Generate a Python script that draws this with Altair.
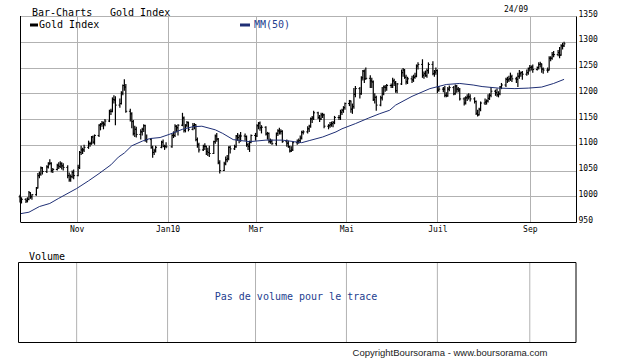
import altair as alt
import pandas as pd

# ---- OHLC data (day, open, high, low, close) ----
sep09 = [(24,999,1003,988,992),(25,992,998,986,994),(28,994,996,987,991),(29,991,998,988,994),(30,994,1010,992,1007)]
oct09 = [(1,1007,1008,995,999),(2,999,1004,993,1003),(5,1003,1018,1001,1016),(6,1016,1045,1015,1040),(7,1040,1048,1035,1043),
         (8,1043,1058,1040,1055),(9,1055,1057,1042,1048),(12,1048,1060,1045,1057),(13,1057,1066,1054,1064),(14,1064,1072,1060,1064),
         (15,1064,1066,1046,1050),(16,1050,1055,1045,1052),(19,1052,1063,1050,1060),(20,1060,1066,1053,1058),(21,1058,1068,1055,1063),
         (22,1063,1066,1052,1059),(23,1059,1064,1050,1056),(26,1056,1060,1035,1040),(27,1040,1046,1028,1032),(28,1032,1042,1028,1038),
         (29,1038,1050,1035,1046),(30,1046,1052,1033,1040)]
nov09 = [(2,1040,1061,1039,1056),(3,1056,1088,1053,1085),(4,1085,1098,1080,1090),(5,1090,1094,1082,1090),(6,1090,1100,1086,1095),
         (9,1095,1108,1092,1102),(10,1102,1106,1096,1102),(11,1102,1117,1100,1115),(12,1115,1118,1102,1105),(13,1105,1120,1100,1118),
         (16,1118,1140,1115,1138),(17,1138,1142,1128,1140),(18,1140,1146,1135,1142),(19,1142,1145,1130,1140),(20,1140,1150,1136,1146),
         (23,1146,1168,1144,1165),(24,1165,1170,1158,1165),(25,1165,1192,1163,1188),(26,1188,1196,1180,1187),(27,1187,1194,1138,1177),
         (30,1177,1190,1172,1180)]
dec09 = [(1,1180,1204,1178,1200),(2,1200,1217,1196,1215),(3,1215,1227,1205,1212),(4,1212,1218,1162,1165),(7,1165,1170,1145,1160),
         (8,1160,1163,1132,1145),(9,1145,1148,1118,1122),(10,1122,1137,1115,1130),(11,1130,1135,1114,1120),(14,1120,1130,1110,1125),
         (15,1125,1133,1118,1130),(16,1130,1140,1125,1137),(17,1137,1139,1106,1110),(18,1110,1120,1104,1110),(21,1110,1113,1092,1095),
         (22,1095,1098,1075,1085),(23,1085,1092,1080,1088),(24,1088,1098,1085,1095),(28,1095,1108,1093,1105),(29,1105,1110,1095,1097),
         (30,1097,1100,1090,1097),(31,1097,1105,1093,1096)]
jan10 = [(4,1096,1122,1094,1118),(5,1118,1126,1113,1118),(6,1118,1140,1115,1136),(7,1136,1138,1124,1133),(8,1133,1140,1118,1138),
         (11,1138,1162,1136,1152),(12,1152,1155,1124,1128),(13,1128,1140,1124,1138),(14,1138,1146,1134,1143),(15,1143,1145,1126,1130),
         (18,1130,1142,1128,1137),(19,1137,1142,1130,1139),(20,1139,1140,1107,1110),(21,1110,1114,1094,1100),(22,1100,1104,1085,1090),
         (25,1090,1100,1088,1097),(26,1097,1103,1090,1097),(27,1097,1098,1080,1087),(28,1087,1094,1078,1085),(29,1085,1098,1076,1083)]
feb10 = [(1,1083,1108,1082,1106),(2,1106,1120,1102,1117),(3,1117,1123,1106,1111),(4,1111,1113,1062,1065),(5,1065,1070,1044,1050),
         (8,1050,1067,1049,1063),(9,1063,1077,1060,1071),(10,1071,1080,1066,1073),(11,1073,1097,1070,1095),(12,1095,1098,1083,1092),
         (15,1092,1100,1090,1096),(16,1096,1119,1094,1117),(17,1117,1123,1108,1114),(18,1114,1120,1103,1117),(19,1117,1125,1106,1117),
         (22,1117,1122,1108,1116),(23,1116,1118,1096,1100),(24,1100,1104,1090,1097),(25,1097,1108,1086,1105),(26,1105,1120,1103,1118)]
mar10 = [(1,1118,1123,1108,1117),(2,1117,1140,1115,1137),(3,1137,1144,1130,1142),(4,1142,1145,1127,1133),(5,1133,1138,1122,1134),
         (8,1134,1136,1118,1121),(9,1121,1125,1110,1122),(10,1122,1124,1103,1107),(11,1107,1112,1102,1107),(12,1107,1110,1100,1102),
         (15,1102,1124,1098,1122),(16,1122,1130,1117,1127),(17,1127,1133,1120,1125),(18,1125,1130,1120,1126),(19,1126,1128,1104,1106),
         (22,1106,1110,1096,1103),(23,1103,1108,1094,1096),(24,1096,1098,1085,1088),(25,1088,1097,1086,1090),(26,1090,1107,1088,1104),
         (29,1104,1110,1100,1106),(30,1106,1112,1102,1108),(31,1108,1118,1104,1113)]
apr10 = [(1,1113,1127,1110,1124),(2,1124,1128,1120,1125),(5,1125,1136,1122,1131),(6,1131,1139,1125,1136),(7,1136,1153,1133,1150),
         (8,1150,1156,1142,1152),(9,1152,1166,1148,1162),(12,1162,1164,1150,1153),(13,1153,1158,1144,1150),(14,1150,1162,1148,1158),
         (15,1158,1162,1152,1158),(16,1158,1160,1132,1136),(19,1136,1140,1130,1137),(20,1137,1144,1133,1139),(21,1139,1145,1135,1141),
         (22,1141,1146,1134,1143),(23,1143,1156,1140,1153),(26,1153,1158,1148,1153),(27,1153,1168,1148,1163),(28,1163,1170,1158,1167),
         (29,1167,1175,1162,1172),(30,1172,1182,1168,1180)]
may10 = [(3,1180,1187,1175,1185),(4,1185,1186,1162,1169),(5,1169,1180,1160,1174),(6,1174,1210,1170,1198),(7,1198,1214,1192,1209),
         (10,1209,1212,1190,1199),(11,1199,1233,1197,1230),(12,1230,1245,1225,1243),(13,1243,1246,1220,1228),(14,1228,1250,1226,1229),
         (17,1229,1235,1210,1224),(18,1224,1230,1210,1222),(19,1222,1225,1185,1188),(20,1188,1200,1180,1192),(21,1192,1195,1166,1177),
         (24,1177,1195,1175,1191),(25,1191,1212,1186,1199),(26,1199,1215,1196,1212),(27,1212,1216,1203,1211),(28,1211,1218,1205,1215),
         (31,1215,1219,1210,1215)]
jun10 = [(1,1215,1230,1210,1224),(2,1224,1228,1214,1220),(3,1220,1224,1201,1205),(4,1205,1220,1200,1218),(7,1218,1246,1216,1240),
         (8,1240,1249,1232,1245),(9,1245,1247,1228,1231),(10,1231,1236,1217,1222),(11,1222,1232,1218,1228),(14,1228,1234,1220,1226),
         (15,1226,1236,1222,1231),(16,1231,1240,1228,1233),(17,1233,1256,1231,1253),(18,1253,1260,1246,1256),(21,1256,1266,1230,1235),
         (22,1235,1242,1228,1238),(23,1238,1244,1232,1234),(24,1234,1248,1230,1244),(25,1244,1260,1238,1256),(28,1256,1262,1235,1238),
         (29,1238,1245,1232,1241),(30,1241,1250,1236,1244)]
jul10 = [(1,1244,1246,1200,1206),(2,1206,1214,1203,1208),(5,1208,1212,1202,1208),(6,1208,1214,1192,1196),(7,1196,1202,1192,1195),
         (8,1195,1212,1193,1208),(9,1208,1215,1204,1211),(12,1211,1214,1196,1199),(13,1199,1217,1197,1214),(14,1214,1216,1201,1208),
         (15,1208,1212,1202,1206),(16,1206,1210,1186,1189),(19,1189,1192,1176,1181),(20,1181,1194,1178,1191),(21,1191,1198,1185,1193),
         (22,1193,1200,1188,1193),(23,1193,1198,1184,1189),(26,1189,1192,1180,1184),(27,1184,1186,1158,1161),(28,1161,1168,1155,1158),
         (29,1158,1172,1157,1169),(30,1169,1184,1165,1181)]
aug10 = [(2,1181,1190,1177,1183),(3,1183,1188,1178,1185),(4,1185,1198,1182,1190),(5,1190,1200,1187,1196),(6,1196,1212,1192,1204),
         (9,1204,1207,1195,1201),(10,1201,1209,1193,1197),(11,1197,1204,1192,1199),(12,1199,1214,1196,1212),(13,1212,1220,1208,1216),
         (16,1216,1230,1212,1227),(17,1227,1232,1220,1226),(18,1226,1234,1222,1228),(19,1228,1240,1224,1232),(20,1232,1236,1222,1228),
         (23,1228,1232,1220,1227),(24,1227,1240,1212,1233),(25,1233,1245,1228,1238),(26,1238,1242,1232,1240),(27,1240,1243,1226,1237),
         (30,1237,1246,1234,1240),(31,1240,1250,1236,1248)]
sep10 = [(1,1248,1255,1242,1250),(2,1250,1254,1244,1251),(3,1251,1256,1240,1246),(6,1246,1252,1244,1250),(7,1250,1260,1246,1256),
         (8,1256,1261,1250,1257),(9,1257,1258,1240,1247),(10,1247,1250,1238,1245),(13,1245,1250,1240,1245),(14,1245,1272,1244,1268),
         (15,1268,1272,1262,1268),(16,1268,1280,1265,1275),(17,1275,1282,1270,1275),(20,1275,1284,1272,1279),(21,1279,1290,1268,1274),
         (22,1274,1295,1273,1292),(23,1292,1298,1285,1292),(24,1292,1300,1290,1296)]

months = [("2009-09", sep09), ("2009-10", oct09), ("2009-11", nov09), ("2009-12", dec09),
          ("2010-01", jan10), ("2010-02", feb10), ("2010-03", mar10), ("2010-04", apr10),
          ("2010-05", may10), ("2010-06", jun10), ("2010-07", jul10), ("2010-08", aug10),
          ("2010-09", sep10)]

# ---- MM(50) line ----
ma_dates = ["2009-09-24","2009-09-30","2009-10-07","2009-10-14","2009-10-20","2009-11-01","2009-11-09",
            "2009-11-16","2009-11-24","2009-11-29","2009-12-03","2009-12-08","2009-12-15","2009-12-20",
            "2009-12-27","2010-01-02","2010-01-11","2010-01-18","2010-01-24","2010-02-02","2010-02-07",
            "2010-02-14","2010-02-25","2010-03-08","2010-03-19","2010-03-27","2010-04-01","2010-04-06",
            "2010-04-15","2010-04-24","2010-04-28","2010-05-07","2010-05-16","2010-05-23","2010-05-30",
            "2010-06-03","2010-06-14","2010-06-26","2010-07-07","2010-07-16","2010-07-25","2010-07-31",
            "2010-08-11","2010-08-22","2010-08-31","2010-09-09","2010-09-17","2010-09-24"]
ma_values = [966,969,980,986,996,1015,1030,
             1044,1061,1076,1084,1098,1107,1112,
             1114,1120,1130,1135,1136,1129,1122,
             1110,1106,1109,1109,1106,1104,1108,
             1115,1125,1131,1141,1152,1160,1167,
             1177,1194,1209,1217,1219,1216,1213,
             1210,1209,1210,1212,1219,1227]

grid_dates = [(2009, 11), (2010, 1), (2010, 3), (2010, 5), (2010, 7), (2010, 9)]
grid_labels = ["Nov", "Jan10", "Mar", "Mai", "Juil", "Sep"]
y_ticks = [950, 1000, 1050, 1100, 1150, 1200, 1250, 1300, 1350]

# ---- tables ----
rows = []
for ym, mrows in months:
    for d, o, h, l, c in mrows:
        rows.append({"date": f"{ym}-{d:02d}", "open": o, "high": h, "low": l, "close": c})
bars = pd.DataFrame(rows)
ma = pd.DataFrame({"date": ma_dates, "ma": ma_values})
grid = pd.DataFrame({"date": [f"{y}-{m:02d}-01" for y, m in grid_dates], "label": grid_labels})
one = pd.DataFrame({"k": [0]})

W, H = 556, 206
MONO = "DejaVu Sans Mono"
GRID = "#b2b2b2"
NAVY = "#1f2f75"
BLUE = "#24408f"

xscale = alt.Scale(type="utc",
                   domain=[alt.DateTime(year=2009, month=9, date=24, utc=True),
                           alt.DateTime(year=2010, month=10, date=2, utc=True)])
yscale = alt.Scale(domain=[950, 1350], nice=False, zero=False)

label_expr = "''"
for (y, m), lab in reversed(list(zip(grid_dates, grid_labels))):
    label_expr = f"utcmonth(datum.value)=={m-1}?'{lab}':({label_expr})"

xaxis = alt.Axis(values=[alt.DateTime(year=y, month=m, date=1, utc=True) for y, m in grid_dates],
                 labelExpr=label_expr, grid=True, gridColor=GRID, gridWidth=1, ticks=False,
                 domainColor="black", domainWidth=1, labelFont=MONO, labelFontSize=8,
                 labelColor="black", labelPadding=3, labelFlush=False, labelOverlap=False, title=None)
yaxis = alt.Axis(orient="right", values=y_ticks, format="d", grid=True, gridColor=GRID, gridWidth=1,
                 ticks=False, domainColor="black", domainWidth=1, labelFont=MONO, labelFontSize=8,
                 labelColor="black", labelPadding=2, labelBaseline="alphabetic", labelFlush=False,
                 title=None)

def X(field="date:T"):
    return alt.X(field, scale=xscale, axis=xaxis)

def Y(field):
    return alt.Y(field, scale=yscale, axis=yaxis)

base = alt.Chart(bars)
hl = base.mark_rule(color="black", strokeWidth=1.2).encode(x=X(), y=Y("low:Q"), y2="high:Q")
op = base.mark_rule(color="black", strokeWidth=1, xOffset=-1.4, x2Offset=0).encode(
    x=X(), x2="date:T", y=Y("open:Q"))
cl = base.mark_rule(color="black", strokeWidth=1, xOffset=0, x2Offset=1.4).encode(
    x=X(), x2="date:T", y=Y("close:Q"))
mline = alt.Chart(ma).mark_line(color=NAVY, strokeWidth=1).encode(x=X(), y=Y("ma:Q"))

left_border = alt.Chart(one).mark_rule(color="black", strokeWidth=1).encode(
    x=alt.value(0.5), y=alt.value(0), y2=alt.value(H))

def txt(s, x, y, size=10, color="black", align="left", font=MONO):
    return alt.Chart(one).mark_text(text=s, font=font, fontSize=size, color=color,
                                    align=align, baseline="middle").encode(
        x=alt.value(x), y=alt.value(y))

sw1 = alt.Chart(one).mark_rule(color="black", strokeWidth=3).encode(
    x=alt.value(10), x2=alt.value(18), y=alt.value(9))
sw2 = alt.Chart(one).mark_rule(color=NAVY, strokeWidth=3).encode(
    x=alt.value(220), x2=alt.value(230), y=alt.value(9))

# volume panel
vol_grid = alt.Chart(grid).mark_rule(color=GRID, strokeWidth=1).encode(
    x=X(), y=alt.value(246), y2=alt.value(326))
vol_box = alt.Chart(one).mark_rect(fill=None, fillOpacity=0, stroke="black", strokeWidth=1).encode(
    x=alt.value(-1.5), x2=alt.value(556), y=alt.value(246.5), y2=alt.value(326.5))

chart = alt.layer(
    hl, op, cl, mline, left_border,
    sw1, sw2,
    txt("Bar-Charts", 12, -3), txt("Gold Index", 90, -3),
    txt("Gold Index", 19, 9), txt("MM(50)", 234, 9, color=BLUE),
    txt("24/09", 496, -6, size=8, align="center"),
    vol_grid, vol_box,
    txt("Volume", 9, 241),
    txt("Pas de volume pour le trace", 276, 281, color=BLUE, align="center"),
    txt("CopyrightBoursorama - www.boursorama.com", 430, 337, size=9.5, align="center",
        font="Liberation Sans", color="#222222"),
).properties(
    width=W, height=H,
    autosize=alt.AutoSizeParams(type="none"),
    padding={"left": 20, "top": 16, "right": 44, "bottom": 137},
    background="white",
).configure_view(stroke=None)

chart.save("out.html", embed_options={"renderer": "svg", "actions": False})
